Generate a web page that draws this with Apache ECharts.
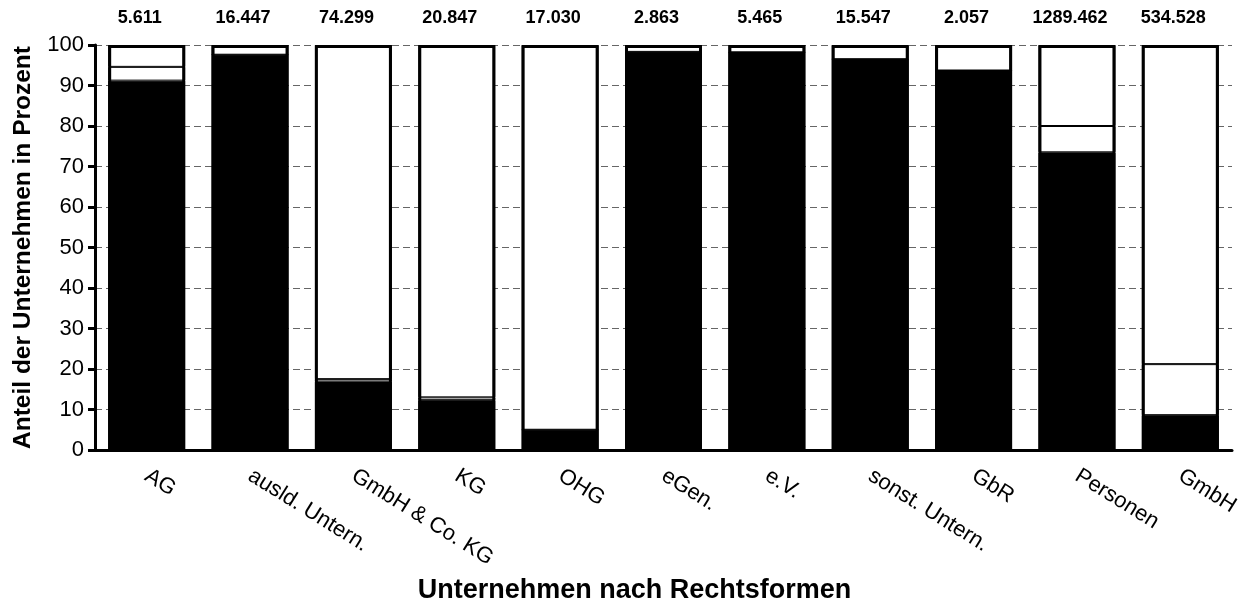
<!DOCTYPE html>
<html>
<head>
<meta charset="utf-8">
<script src="https://cdn.jsdelivr.net/npm/echarts@6/dist/echarts.min.js"></script>
<style>
html,body{margin:0;padding:0;background:#fff;}
#chart{width:1260px;height:611px;}
</style>
</head>
<body>
<div id="chart"></div>
<script>
// Data
var categories = ['AG', 'ausld. Untern.', 'GmbH & Co. KG', 'KG', 'OHG', 'eGen.', 'e.V.', 'sonst. Untern.', 'GbR', 'Personen', 'GmbH'];
var totalLabels = ['5.611', '16.447', '74.299', '20.847', '17.030', '2.863', '5.465', '15.547', '2.057', '1289.462', '534.528'];
var shareBlack  = [91.2, 97.6, 16.9, 12.3, 5.0, 98.3, 98.2, 96.5, 93.7, 73.5, 8.6];
var shareMiddle = [3.4, 0, 0.6, 0.7, 0, 0, 0, 0, 0, 6.5, 12.6];
var shareTop    = [5.4, 2.4, 82.5, 87.0, 95.0, 1.7, 1.8, 3.5, 6.3, 20.0, 78.8];
var yTicks = [0, 10, 20, 30, 40, 50, 60, 70, 80, 90, 100];

var outline = shareBlack.map(function (v, i) { return v + shareMiddle[i] + shareTop[i]; });

var FONT = '"Liberation Sans", Arial, sans-serif';
var chart = echarts.init(document.getElementById('chart'), null, {renderer: 'canvas'});

chart.setOption({
  animation: false,
  backgroundColor: '#ffffff',
  grid: {left: 95, right: 28, top: 45, bottom: 161, containLabel: false, outerBoundsMode: 'none'},
  xAxis: {
    type: 'category',
    data: categories,
    name: 'Unternehmen nach Rechtsformen',
    nameLocation: 'middle',
    nameGap: 127,
    nameTextStyle: {fontFamily: FONT, fontSize: 27, fontWeight: 'bold', color: '#000', padding: [0, 58, 0, 0]},
    axisLine: {show: true, lineStyle: {color: '#000', width: 3}},
    axisTick: {show: false},
    axisLabel: {rotate: -32, margin: 24, fontFamily: FONT, fontSize: 22, color: '#000', interval: 0}
  },
  yAxis: {
    type: 'value',
    min: 0, max: 100, interval: 10,
    name: 'Anteil der Unternehmen in Prozent',
    nameLocation: 'middle',
    nameRotate: 90,
    nameGap: 59,
    nameTextStyle: {fontFamily: FONT, fontSize: 24.5, fontWeight: 'bold', color: '#000'},
    axisLine: {show: true, lineStyle: {color: '#000', width: 3}},
    axisTick: {show: true, length: 7, lineStyle: {color: '#000', width: 3}},
    axisLabel: {margin: 11, fontFamily: FONT, fontSize: 22, color: '#000',
      formatter: function (v) { return yTicks.indexOf(v) >= 0 ? String(v) : ''; }},
    splitLine: {show: true, lineStyle: {color: '#666', width: 1, type: [7, 4]}}
  },
  series: [
    {
      name: 'black', type: 'bar', stack: 's', data: shareBlack, barWidth: 77,
      itemStyle: {color: '#000', borderColor: '#000', borderWidth: 1}
    },
    {
      name: 'middle', type: 'bar', stack: 's', data: shareMiddle, barWidth: 77,
      itemStyle: {color: '#fff', borderColor: '#000', borderWidth: 1}
    },
    {
      name: 'top', type: 'bar', stack: 's', data: shareTop, barWidth: 77,
      itemStyle: {color: '#fff', borderColor: '#000', borderWidth: 1}
    },
    {
      name: 'outline', type: 'bar', data: outline, barWidth: 77, barGap: '-100%', z: 5,
      itemStyle: {color: 'rgba(0,0,0,0)', borderColor: '#000', borderWidth: 3},
      label: {
        show: true, position: 'top', distance: 18, offset: [-7, 0],
        fontFamily: FONT, fontSize: 18, fontWeight: 'bold', color: '#000',
        formatter: function (p) { return totalLabels[p.dataIndex]; }
      }
    }
  ]
});
</script>
</body>
</html>
